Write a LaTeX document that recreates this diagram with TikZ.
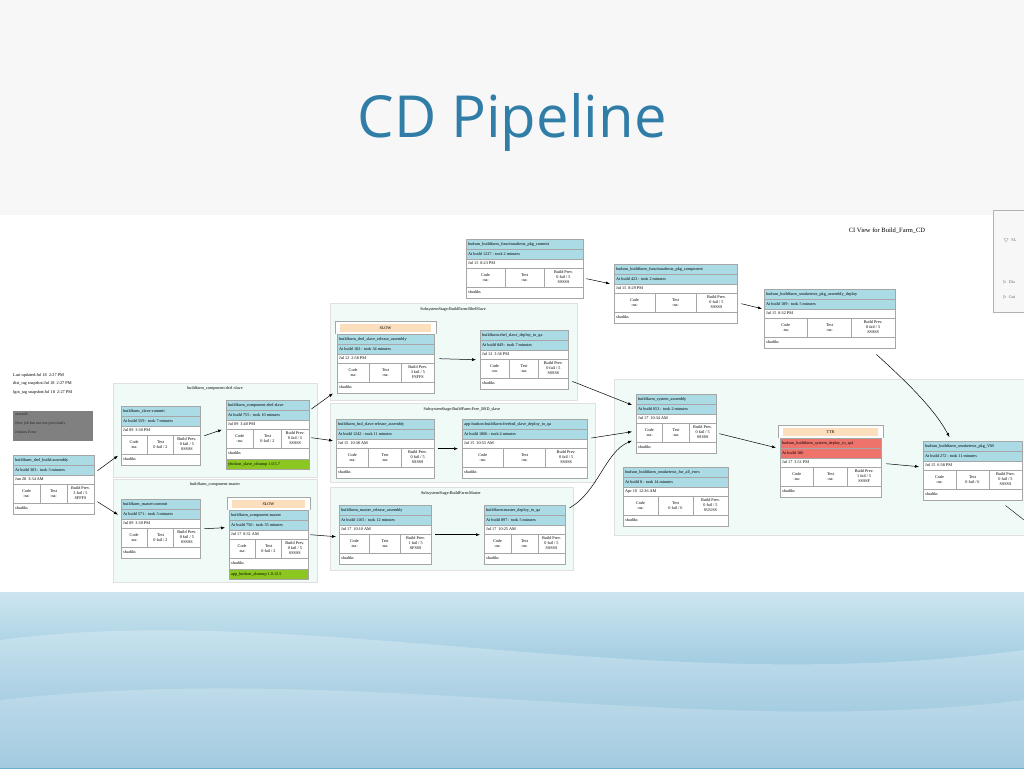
\documentclass[tikz,border=0pt]{standalone}
\usepackage{fontspec}
\setmainfont{Liberation Serif}
\newfontfamily\titlefont{Open Sans}
\usetikzlibrary{arrows.meta}
\definecolor{jobcyan}{rgb}{0.67,0.86,0.9}
\definecolor{ttrred}{rgb}{0.93,0.45,0.42}
\definecolor{peach}{rgb}{0.99,0.87,0.74}
\definecolor{okgreen}{rgb}{0.55,0.78,0.13}
\definecolor{clusterbg}{rgb}{0.94,0.98,0.97}
\definecolor{titleblue}{rgb}{0.19,0.49,0.66}
\colorlet{headc}{jobcyan}
\tikzset{
  jobline/.style={draw=black!35,line width=0.4pt},
  jobtxt/.style={font=\fontsize{4.2}{5}\selectfont,inner sep=0pt,align=center},
  cluster/.style={fill=clusterbg,draw=black!12,line width=0.4pt},
  flow/.style={-{Latex[length=4pt,width=3pt]},line width=0.5pt}
}
% card: name, x, y (top of title row), width, title, build, date, test, prev
\newcommand\jobcard[9]{%
  \begin{scope}[shift={(#2,#3)}]
    \fill[white] (0,0) rectangle (#4,59);
    \fill[headc] (0,0) rectangle (#4,20);
    \draw[jobline] (0,0) rectangle (#4,59);
    \draw[jobline] (0,10) -- (#4,10) (0,20) -- (#4,20) (0,29) -- (#4,29) (0,48) -- (#4,48)
      ({#4/3},29) -- ({#4/3},48) ({2*#4/3},29) -- ({2*#4/3},48);
    \node[jobtxt,anchor=west] at (2,5) {#5};
    \node[jobtxt,anchor=west] at (2,15) {#6};
    \node[jobtxt,anchor=west] at (2,24.5) {#7};
    \node[jobtxt] at ({#4/6},38.5) {Code\\-na-};
    \node[jobtxt] at ({#4/2},38.5) {Test\\#8};
    \node[jobtxt] at ({5*#4/6},38.5) {#9};
    \node[jobtxt,anchor=west] at (2,53.5) {shadiks};
  \end{scope}
  \node[minimum width=#4pt,minimum height=59pt,inner sep=0pt,anchor=north west] (#1) at (#2,#3) {};
}
% banner above a card: x, y (card top), width, text
\newcommand\flagbox[4]{%
  \fill[white] (#1-2,#2-13) rectangle (#1+#3+2,#2);
  \draw[jobline] (#1-2,#2-13) -- (#1+#3+2,#2-13) -- (#1+#3+2,#2) (#1-2,#2) -- (#1-2,#2-13);
  \fill[peach] (#1+3,#2-10) rectangle (#1+#3-3,#2-2);
  \node[jobtxt] at (#1+#3/2,#2-6) {#4};
}
% green footer under a card: x, y (card top), width, text
\newcommand\footbox[4]{%
  \fill[okgreen] (#1,#2+59) rectangle (#1+#3,#2+69);
  \draw[jobline] (#1,#2+59) rectangle (#1+#3,#2+69);
  \node[jobtxt,anchor=west] at (#1+2,#2+64) {#4};
}
\begin{document}
\begin{tikzpicture}[x=1pt,y=-1pt]
\useasboundingbox (0,0) rectangle (1024,768);
% slide background
\fill[black!3] (0,0) rectangle (1024,215);
\fill[white] (0,215) rectangle (1024,592);
\shade[top color={rgb,1:red,0.8;green,0.9;blue,0.94},bottom color={rgb,1:red,0.4;green,0.66;blue,0.8}] (0,592) rectangle (1024,768);
\fill[white,opacity=0.25] (0,640) .. controls (300,600) and (650,700) .. (1024,650) -- (1024,768) -- (0,768) -- cycle;
\fill[white,opacity=0.2] (0,700) .. controls (350,660) and (700,740) .. (1024,700) -- (1024,768) -- (0,768) -- cycle;
\node[font=\titlefont\fontsize{58}{60}\selectfont,text=titleblue] (title) at (512,122) {CD Pipeline};
% header texts
\node[font=\fontsize{6.5}{7}\selectfont] (view) at (887,231) {CI View for Build\_Farm\_CD};
\node[jobtxt,anchor=north west,align=left,font=\fontsize{4.3}{8.5}\selectfont] (upd) at (13,373)
  {Last updated:Jul 18 \ 2:27 PM\\dist\_tag snapshot:Jul 18 \ 2:27 PM\\lgot\_tag snapshot:Jul 18 \ 2:27 PM};
\fill[black!50] (13,411) rectangle (93,441);
\node[jobtxt,anchor=north west,align=left,font=\fontsize{4}{9}\selectfont,text=black!85] (note) at (15,413)
  {assessII.\\New job has not run previously\\Jenkins Error};
% sidebar fragment
\draw[black!30,fill=black!3] (993,210) rectangle (1030,312);
\node[jobtxt,anchor=west,text=black!60] (sb1) at (1003,240) {$\bigtriangledown$ \ SL};
\node[jobtxt,anchor=west,text=black!60] (sb2) at (1003,282) {$\triangleright$ \ Dia};
\node[jobtxt,anchor=west,text=black!60] (sb3) at (1003,297) {$\triangleright$ \ Gui};
% clusters
\fill[cluster] (113,383) rectangle (317,477);
\node[jobtxt] (cl1) at (215,388) {buildfarm\_component-rhel-slave};
\fill[cluster] (113,479) rectangle (317,582);
\node[jobtxt] (cl2) at (215,484) {buildfarm\_component-master};
\fill[cluster] (330,303) rectangle (577,400);
\node[jobtxt] (cl3) at (453,309) {SubsystemStage:BuildFarm:RhelSlave};
\fill[cluster] (330,403) rectangle (595,482);
\node[jobtxt] (cl4) at (462,409) {SubsystemStage:BuildFarm:Free\_BSD\_slave};
\fill[cluster] (330,487) rectangle (573,570);
\node[jobtxt] (cl5) at (451,493) {SubsystemStage:BuildFarm:Master};
\fill[cluster] (614,379) rectangle (1024,535);
% cards
\jobcard{rhelbuild}{13}{455}{81}{buildfarm\_rhel\_build-assembly}{At build 303 : took 3 minutes}{Jun 28 \ 3:34 AM}{-na-}{Build Prev.\\3 fail / 5\\SFFFS}
\jobcard{slavecommit}{121}{406}{79}{buildfarm\_slave-commit}{At build 559 : took 7 minutes}{Jul 09 \ 3:30 PM}{0 fail / 2}{Build Prev.\\0 fail / 5\\SSSSS}
\jobcard{rhelslave}{226}{400}{83}{buildfarm\_component-rhel-slave}{At build 755 : took 10 minutes}{Jul 09 \ 3:40 PM}{0 fail / 2}{Build Prev.\\0 fail / 5\\SSSSS}
\footbox{226}{400}{83}{yholson\_slave\_cleanup 1.0.5.7}
\jobcard{mastercommit}{121}{499}{79}{buildfarm\_master-commit}{At build 571 : took 3 minutes}{Jul 09 \ 3:30 PM}{0 fail / 2}{Build Prev.\\0 fail / 5\\SSSSS}
\flagbox{229}{510}{79}{SLOW}
\jobcard{compmaster}{229}{510}{79}{buildfarm\_component-master}{At build 750 : took 35 minutes}{Jul 17 \ 8:31 AM}{0 fail / 2}{Build Prev.\\0 fail / 5\\SSSSS}
\footbox{229}{510}{79}{app\_hudson\_cleanup 1.0.12.5}
\jobcard{ftcommit}{466}{239}{117}{hudson\_buildfarm\_functionaltests\_pkg\_commit}{At build 1227 : took 2 minutes}{Jul 15 \ 8:23 PM}{-na-}{Build Prev.\\0 fail / 5\\SSSSS}
\jobcard{ftcomp}{614}{264}{123}{hudson\_buildfarm\_functionaltests\_pkg\_component}{At build 422 : took 2 minutes}{Jul 15 \ 8:29 PM}{-na-}{Build Prev.\\0 fail / 5\\SSSSS}
\jobcard{stdeploy}{764}{289}{131}{hudson\_buildfarm\_smoketests\_pkg\_assembly\_deploy}{At build 189 : took 5 minutes}{Jul 15 \ 8:32 PM}{-na-}{Build Prev.\\0 fail / 5\\SSSSS}
\flagbox{337}{334}{97}{SLOW}
\jobcard{rhelrel}{337}{334}{97}{buildfarm\_rhel\_slave\_release\_assembly}{At build 182 : took 34 minutes}{Jul 12 \ 2:58 PM}{-na-}{Build Prev.\\3 fail / 5\\FSFFS}
\jobcard{rheldeploy}{480}{330}{88}{buildfarm-rhel\_slave\_deploy\_to\_qa}{At build 849 : took 7 minutes}{Jul 12 \ 3:36 PM}{-na-}{Build Prev.\\0 fail / 5\\SSSSS}
\jobcard{bsdrel}{336}{419}{98}{buildfarm\_bsd\_slave-release\_assembly}{At build 1242 : took 11 minutes}{Jul 15 \ 10:38 AM}{-na-}{Build Prev.\\0 fail / 5\\SSSSS}
\jobcard{bsddeploy}{462}{419}{125}{app-hudson-buildfarm-freebsd\_slave\_deploy\_to\_qa}{At build 1806 : took 4 minutes}{Jul 15 \ 10:53 AM}{-na-}{Build Prev.\\0 fail / 5\\SSSSS}
\jobcard{masterrel}{339}{505}{92}{buildfarm\_master\_release\_assembly}{At build 1165 : took 12 minutes}{Jul 17 \ 10:10 AM}{-na-}{Build Prev.\\1 fail / 5\\SFSSS}
\jobcard{masterdeploy}{484}{505}{81}{buildfarm-master\_deploy\_to\_qa}{At build 897 : took 5 minutes}{Jul 17 \ 10:25 AM}{-na-}{Build Prev.\\0 fail / 5\\SSSSS}
\jobcard{sysasm}{636}{394}{80}{buildfarm\_system\_assembly}{At build 653 : took 2 minutes}{Jul 17 \ 10:34 AM}{-na-}{Build Prev.\\0 fail / 5\\SSSSS}
\jobcard{stall}{623}{467}{105}{hudson\_buildfarm\_smoketests\_for\_all\_envs}{At build 8 : took 14 minutes}{Apr 10 \ 12:36 AM}{0 fail / 6}{Build Prev.\\0 fail / 5\\SUUSS}
\flagbox{780}{438}{101}{TTR}
\begin{scope}
\colorlet{headc}{ttrred}
\jobcard{sysdeploy}{780}{438}{101}{hudson\_buildfarm\_system\_deploy\_to\_qa1}{At build 186}{Jul 17 \ 3:51 PM}{-na-}{Build Prev.\\1 fail / 5\\SSSSF}
\end{scope}
\jobcard{stvm}{923}{441}{99}{hudson\_buildfarm\_smoketests\_pkg\_VM}{At build 272 : took 11 minutes}{Jul 15 \ 6:38 PM}{0 fail / 6}{Build Prev.\\0 fail / 5\\SSSSS}
\coordinate (offright) at (1024,520);
% connectors
\draw[flow] ([xshift=3pt,yshift=14pt]rhelbuild.east) -- ([xshift=-3pt,yshift=-20pt]slavecommit.west);
\draw[flow] ([xshift=3pt,yshift=-17pt]rhelbuild.east) -- ([xshift=-3pt,yshift=14pt]mastercommit.west);
\draw[flow] ([xshift=4pt]slavecommit.east) -- ([xshift=-4pt]rhelslave.west);
\draw[flow] ([xshift=4pt]mastercommit.east) -- ([xshift=-4pt,yshift=12pt]compmaster.west);
\draw[flow] ([xshift=2pt,yshift=-9pt]rhelslave.north east) -- ([xshift=-4pt]rhelrel.south west);
\draw[flow] ([xshift=2pt,yshift=-8pt]rhelslave.east) -- ([xshift=-3pt,yshift=8pt]bsdrel.west);
\draw[flow] ([xshift=2pt,yshift=5pt]compmaster.east) -- ([xshift=-3pt,yshift=-2pt]masterrel.west);
\draw[flow] ([xshift=3pt,yshift=-10pt]ftcommit.east) -- ([xshift=-4pt,yshift=10pt]ftcomp.west);
\draw[flow] ([xshift=4pt,yshift=-10pt]ftcomp.east) -- ([xshift=-2pt,yshift=10pt]stdeploy.west);
\draw[flow] ([xshift=5pt,yshift=5pt]rhelrel.east) -- ([xshift=-4pt]rheldeploy.west);
\draw[flow] ([xshift=4pt,yshift=8pt]rheldeploy.south east) -- ([xshift=-4pt,yshift=-11pt]sysasm.north west);
\draw[flow] ([xshift=4pt]bsdrel.east) -- ([xshift=-4pt]bsddeploy.west);
\draw[flow] ([xshift=4pt,yshift=-19pt]bsddeploy.north east) -- ([xshift=-4pt,yshift=-8pt]sysasm.west);
\draw[flow] ([xshift=4pt]masterrel.east) -- ([xshift=-4pt]masterdeploy.west);
\draw[flow] ([xshift=4pt,yshift=-3pt]masterdeploy.north east) .. controls (598,492) and (605,452) .. ([xshift=-4pt,yshift=-17pt]sysasm.west);
\draw[flow] ([xshift=3pt,yshift=-10pt]sysasm.east) -- ([xshift=-4pt,yshift=20pt]sysdeploy.west);
\draw[flow] ([xshift=5pt,yshift=4pt]sysdeploy.east) -- ([xshift=-4pt,yshift=4pt]stvm.west);
\draw[flow] ([xshift=-19pt,yshift=-6pt]stdeploy.south east) .. controls (910,385) and (935,410) .. ([xshift=-73pt,yshift=4pt]stvm.north east);
\draw ([xshift=-17pt,yshift=-5pt]stvm.south east) -- (offright);
\end{tikzpicture}
\end{document}
